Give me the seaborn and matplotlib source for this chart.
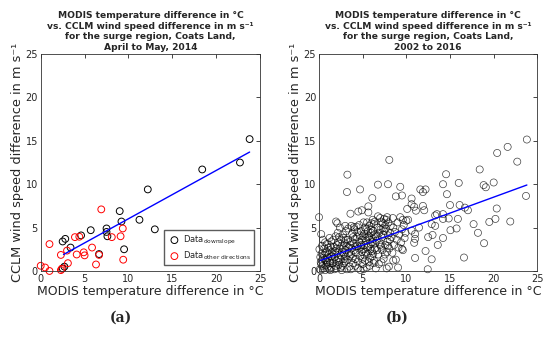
import numpy as np
import seaborn as sns
from matplotlib import pyplot as plt

sns.set_style('white')

# panel (a): April to May 2014
down_x = [23.8, 22.7, 18.4, 12.2, 9.0, 9.2, 11.25, 13.0, 9.5, 7.5, 7.5, 7.6, 5.7, 4.6,
          2.8, 2.5, 3.4, 6.65, 2.7, 2.5]
down_y = [15.2, 12.5, 11.7, 9.4, 6.9, 5.7, 5.9, 4.8, 2.5, 4.9, 4.5, 4.0, 4.7, 4.1,
          3.7, 3.4, 2.7, 1.95, 0.5, 0.3]
other_x = [6.9, 9.35, 9.1, 9.4, 8.1, 5.85, 6.65, 6.3, 4.4, 3.9, 4.1, 4.9, 5.0, 3.0,
           2.3, 3.1, 1.0, 0.0, 0.5, 1.0, 2.3, 2.4]
other_y = [7.1, 4.9, 4.0, 1.3, 3.9, 2.7, 1.85, 0.75, 3.95, 3.9, 1.9, 2.15, 1.8, 2.35,
           1.85, 0.9, 3.1, 0.6, 0.4, 0.0, 0.1, 0.25]
fit_a = dict(slope=0.557, intercept=0.45, xmin=2.6, xmax=23.8)

# panel (b): 2002 to 2016
all_x = [23.8, 21.6, 20.4, 22.7, 18.4, 8.05, 3.25, 14.55, 3.2, 4.7, 6.75, 7.9, 9.3, 9.5,
         8.8, 6.1, 14.2, 16.0, 20.0, 18.85, 19.1, 14.65, 10.6, 11.6, 12.2, 11.9, 23.7,
         15.0, 16.1, 16.7, 17.05, 20.35, 10.9, 11.1, 11.9, 12.05, 13.3, 13.5, 14.2, 14.2,
         14.85, 15.9, 20.2, 19.5, 21.9, 17.7, 15.75, 15.05, 14.2, 13.6, 18.2, 18.9, 12.2,
         11.0, 12.9, 16.6, 12.45, 8.5, 0.0, 0.25, 3.6, 4.5, 4.9, 5.65, 5.65, 1.95, 3.0,
         4.0, 5.1, 9.6, 10.2, 10.6, 11.0, 11.45, 12.9, 13.3, 13.0, 12.5, 11.0, 10.9, 9.5,
         10.1, 10.6,
         0.1, 0.2, 0.3, 0.4, 0.5, 0.6, 0.7, 0.8, 0.9, 1.0, 1.1, 1.2, 1.3, 1.4, 1.5, 0.15,
         0.35, 0.55, 0.75, 0.95, 1.15, 1.35, 1.45, 0.25, 0.45, 0.65, 0.85, 1.05, 1.25, 1.4,
         0.05, 0.3, 0.6, 0.9, 1.2, 1.0, 0.7, 0.2, 1.5, 1.3,
         1.6, 1.7, 1.8, 1.9, 2.0, 2.1, 2.2, 2.3, 2.4, 2.5, 2.6, 2.7, 2.8, 2.9, 3.0, 3.1,
         3.2, 1.65, 1.75, 1.85, 1.95, 2.05, 2.15, 2.25, 2.35, 2.45, 2.55, 2.65, 2.75, 2.85,
         2.95, 3.05, 3.15, 1.7, 2.0, 2.3, 2.6, 2.9, 3.1, 1.9, 2.2, 2.5, 2.8, 3.0, 2.1,
         3.3, 3.4, 3.5, 3.6, 3.7, 3.8, 3.9, 4.0, 4.1, 4.2, 4.3, 4.4, 4.5, 4.6, 4.7, 4.8,
         4.9, 5.0, 3.35, 3.45, 3.55, 3.65, 3.75, 3.85, 3.95, 4.05, 4.15, 4.25, 4.35, 4.45,
         4.55, 4.65, 4.75, 4.85, 4.95, 3.5, 3.9, 4.2, 4.6, 4.9, 3.3, 3.7, 4.4, 4.8, 5.0,
         5.1, 5.2, 5.3, 5.4, 5.5, 5.6, 5.7, 5.8, 5.9, 6.0, 6.1, 6.2, 6.3, 6.4, 6.5, 5.15,
         5.25, 5.35, 5.45, 5.55, 5.65, 5.75, 5.85, 5.95, 6.05, 6.15, 6.25, 6.35, 6.45, 5.3,
         5.6, 5.9, 6.2, 6.4, 5.2, 5.5, 5.8, 6.1, 6.3, 5.4, 5.7, 6.0, 6.5, 5.1, 6.2,
         6.6, 6.7, 6.8, 6.9, 7.0, 7.1, 7.2, 7.3, 7.4, 7.5, 7.6, 7.7, 7.8, 7.9, 8.0, 8.1,
         8.2, 6.65, 6.75, 6.85, 6.95, 7.05, 7.15, 7.25, 7.35, 7.45, 7.55, 7.65, 7.75, 7.85,
         7.95, 8.05, 8.15, 6.7, 7.0, 7.3, 7.6, 7.9, 7.1, 7.8,
         8.3, 8.4, 8.5, 8.6, 8.7, 8.8, 8.9, 9.0, 9.1, 9.2, 9.3, 9.4, 9.5, 9.6, 9.7, 9.8,
         9.9, 10.0, 8.45, 9.05]
all_y = [15.15, 14.3, 13.6, 12.6, 11.7, 12.8, 11.1, 11.15, 9.1, 9.4, 9.95, 10.0, 9.7, 8.7,
         8.6, 8.4, 10.0, 10.15, 10.2, 9.9, 9.65, 8.85, 8.35, 9.4, 9.4, 9.1, 8.65,
         7.6, 7.6, 7.3, 7.0, 7.2, 7.4, 6.95, 7.5, 7.0, 6.4, 6.55, 6.55, 6.0,
         6.05, 6.0, 6.0, 5.65, 5.7, 5.4, 4.9, 4.7, 3.8, 3.0, 4.4, 3.2, 2.3,
         1.5, 1.35, 1.55, 0.2, 1.2, 6.2, 4.25, 6.6, 6.85, 7.0, 7.45, 6.75, 5.7, 5.2,
         5.05, 5.6, 5.9, 5.9, 4.65, 4.25, 5.0, 5.4, 5.2, 4.15, 3.9, 3.7, 3.25, 2.55,
         7.15, 7.7,
         0.2, 1.0, 2.0, 0.6, 1.5, 2.6, 0.1, 1.2, 3.1, 0.5, 1.9, 2.4, 0.9, 3.4, 1.4, 1.6,
         2.9, 0.3, 2.1, 1.0, 0.2, 2.8, 1.7, 0.8, 3.6, 1.3, 0.7, 2.7, 1.1, 0.4,
         2.5, 1.2, 1.8, 2.2, 3.8, 1.5, 3.3, 0.1, 2.2, 0.1,
         0.9, 2.8, 1.6, 4.0, 0.3, 2.1, 3.3, 1.0, 5.0, 1.8, 2.9, 0.6, 3.8, 1.4, 2.4, 4.6,
         0.2, 3.6, 0.2, 2.3, 1.2, 3.0, 4.4, 0.7, 2.6, 1.3, 3.6, 2.2, 4.2, 0.9,
         3.2, 1.7, 2.9, 1.9, 2.6, 3.9, 0.1, 2.0, 3.6, 0.6, 1.5, 0.4, 2.6, 1.1, 5.5,
         1.3, 2.7, 0.5, 3.4, 1.9, 4.3, 0.9, 2.4, 3.7, 1.4, 5.1, 2.9, 0.3, 3.3, 1.7, 4.6,
         2.2, 0.8, 4.9, 2.1, 3.0, 0.2, 2.6, 1.5, 3.2, 4.8, 0.6, 2.1, 3.9, 1.1,
         2.6, 4.1, 0.1, 3.0, 1.4, 1.7, 3.9, 2.8, 5.3, 3.6, 3.6, 5.2, 4.5, 2.8, 4.0,
         2.5, 4.3, 1.2, 3.5, 5.6, 2.0, 4.0, 0.6, 3.1, 4.8, 1.7, 3.7, 5.4, 2.6, 0.3, 3.0,
         5.0, 2.2, 0.4, 3.9, 2.8, 5.2, 1.5, 4.4, 2.3, 5.9, 0.9, 4.2, 3.2, 3.8,
         4.6, 2.5, 4.6, 5.7, 1.8, 2.7, 3.6, 3.3, 1.2, 4.8, 1.0, 5.5, 4.0, 0.2, 2.0,
         3.5, 5.0, 1.9, 4.4, 6.1, 2.8, 3.9, 5.5, 1.4, 4.6, 3.0, 5.9, 2.2, 4.1, 0.5, 3.6,
         5.2, 2.4, 6.3, 0.8, 3.3, 4.8, 1.0, 2.4, 4.2, 6.0, 1.9, 4.9, 0.3, 3.4,
         5.6, 2.6, 4.4, 4.0, 3.0, 4.9, 5.3, 2.9, 5.7, 6.2,
         3.9, 2.1, 5.0, 3.0, 4.5, 1.3, 3.6, 5.6, 2.7, 4.2, 6.2, 3.3, 4.8, 2.4, 5.3, 3.8,
         4.4, 5.8, 6.1, 0.4]
fit_b = dict(slope=0.368, intercept=1.15, xmin=0.0, xmax=23.8)

title_a = ('MODIS temperature difference in °C\nvs. CCLM wind speed difference in m s⁻¹\n'
           'for the surge region, Coats Land,\nApril to May, 2014')
title_b = ('MODIS temperature difference in °C\nvs. CCLM wind speed difference in m s⁻¹\n'
           'for the surge region, Coats Land,\n2002 to 2016')
xlab = 'MODIS temperature difference in °C'
ylab = 'CCLM wind speed difference in m s⁻¹'

fig = plt.figure(figsize=(5.5, 3.4), dpi=100)
ax1 = fig.add_axes([0.074, 0.203, 0.399, 0.638])
ax2 = fig.add_axes([0.580, 0.203, 0.397, 0.638])


def fit_line(ax, f):
    xs = np.array([f['xmin'], f['xmax']])
    sns.lineplot(x=xs, y=f['intercept'] + f['slope'] * xs, ax=ax, color='#0000ff',
                 linewidth=1.0)


sns.scatterplot(x=down_x, y=down_y, ax=ax1, s=24, marker='o', facecolor='none',
                edgecolor='black', linewidth=0.7, clip_on=False,
                label='Data$_{\\mathrm{downslope}}$')
sns.scatterplot(x=other_x, y=other_y, ax=ax1, s=24, marker='o', facecolor='none',
                edgecolor='red', linewidth=0.7, clip_on=False,
                label='Data$_{\\mathrm{other\\ directions}}$')
fit_line(ax1, fit_a)
ax1.legend(loc='lower right', fontsize=6, frameon=True, fancybox=False,
           edgecolor='#333333', borderpad=0.4, handletextpad=0.2, labelspacing=0.3,
           borderaxespad=0.7, handlelength=1.6)

sns.scatterplot(x=all_x, y=all_y, ax=ax2, s=26, marker='o', facecolor='none',
                edgecolor='black', linewidth=0.5, alpha=0.75, clip_on=False)
fit_line(ax2, fit_b)

for ax, t in [(ax1, title_a), (ax2, title_b)]:
    ax.set_xlim(0, 25)
    ax.set_ylim(0, 25)
    ax.set_xticks(range(0, 26, 5))
    ax.set_yticks(range(0, 26, 5))
    ax.tick_params(direction='in', top=True, right=True, length=3, width=0.6,
                   labelsize=7, colors='#262626', pad=2)
    for s in ax.spines.values():
        s.set_color('#333333')
        s.set_linewidth(0.6)
    ax.set_title(t, fontsize=6.6, fontweight='bold', linespacing=1.22, pad=3)
    ax.set_xlabel(xlab, fontsize=9.0, color='#262626', labelpad=1)
    ax.set_ylabel(ylab, fontsize=9.3, color='#262626', labelpad=1)

fig.text(0.22, 0.065, '(a)', ha='center', va='center', fontsize=10, fontweight='bold',
         family='DejaVu Serif')
fig.text(0.722, 0.065, '(b)', ha='center', va='center', fontsize=10, fontweight='bold',
         family='DejaVu Serif')

fig.savefig('out.png', dpi=100)
